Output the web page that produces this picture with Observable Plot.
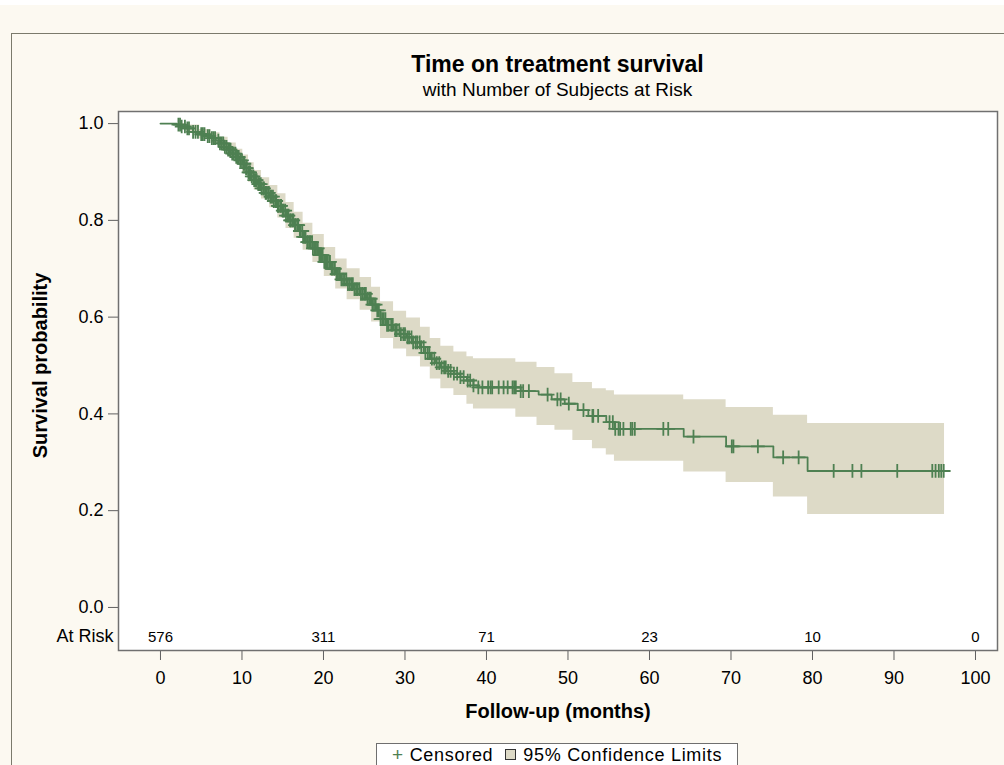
<!DOCTYPE html>
<html>
<head>
<meta charset="utf-8">
<script src="https://cdn.jsdelivr.net/npm/d3@7"></script>
<script src="https://cdn.jsdelivr.net/npm/@observablehq/plot@0.6"></script>
<style>
  html, body { margin: 0; padding: 0; background: #ffffff; }
  #page { position: relative; width: 1004px; height: 765px; overflow: hidden; background: #ffffff;
          font-family: "Liberation Sans", Arial, sans-serif; color: #000; }
  #cream { position: absolute; left: 0; top: 5px; width: 1004px; height: 760px; background: #fcf9f1; }
  #outer { position: absolute; left: 11px; top: 33px; width: 1200px; height: 1000px;
           border-left: 1.5px solid #7b7a6c; border-top: 1.5px solid #7b7a6c; }
  #title { position: absolute; left: 118px; width: 879px; top: 53px; text-align: center;
           font-size: 23px; line-height: 23px; font-weight: bold; }
  #subtitle { position: absolute; left: 118px; width: 879px; top: 80px; text-align: center;
              font-size: 19px; line-height: 19px; }
  #chart { position: absolute; left: 0; top: 104px; }
  #legend { position: absolute; left: 376px; top: 743px; width: 362px; height: 32px;
            border: 1px solid #6f6f6f; background: #ffffff; font-size: 18px; line-height: 18px;
            padding-top: 2px; box-sizing: border-box; letter-spacing: 0.7px;
            text-align: center; white-space: nowrap; }
  #legend .plus { color: #4e8052; font-size: 19px; margin-right: 6px; }
  #legend .sw { display: inline-block; width: 9px; height: 9px; background: #dddac7; border: 1.5px solid #333;
                margin: 0 7px 0 12px; vertical-align: 1px; }
</style>
</head>
<body>
<div id="page">
  <div id="cream"></div>
  <div id="outer"></div>
  <div id="title">Time on treatment survival</div>
  <div id="subtitle">with Number of Subjects at Risk</div>
  <div id="chart"></div>
  <div id="legend"><span class="plus">+</span>Censored<span class="sw"></span>95% Confidence Limits</div>
</div>
<script>
// ---- Data ----
const kmTime = [0, 2.0, 2.6, 3.2, 4.0, 4.8, 5.5, 6.2, 6.8, 7.3, 7.8, 8.3, 8.8, 9.3, 9.7, 10.1, 10.5, 10.8, 11.1, 11.5,
  11.9, 12.4, 12.9, 13.4, 13.9, 14.4, 14.9, 15.4, 15.9, 16.4, 17.0, 17.5, 18.0, 18.7, 19.4, 20.1, 20.9, 21.5, 22.1, 22.9,
  23.7, 24.5, 25.3, 25.9, 26.5, 27.0, 27.8, 28.6, 29.4, 30.2, 31.0, 31.9, 32.5, 33.1, 33.8, 34.4, 35.2, 36.0, 36.8, 37.6,
  38.4, 39.0, 44.2, 46.4, 48.0, 49.6, 51.2, 52.5, 54.7, 55.7, 64.2, 69.4, 75.2, 79.4, 96.7];
const kmSurv = [1.000, 0.998, 0.994, 0.990, 0.983, 0.978, 0.974, 0.970, 0.965, 0.959, 0.952, 0.946, 0.938, 0.931, 0.924, 0.917, 0.908, 0.899, 0.891, 0.883,
  0.875, 0.866, 0.857, 0.849, 0.840, 0.830, 0.820, 0.810, 0.800, 0.790, 0.778, 0.766, 0.755, 0.742, 0.728, 0.714, 0.700, 0.689, 0.678, 0.668,
  0.658, 0.648, 0.638, 0.626, 0.614, 0.596, 0.584, 0.573, 0.565, 0.558, 0.548, 0.538, 0.526, 0.514, 0.505, 0.496, 0.489, 0.483, 0.476, 0.469,
  0.459, 0.455, 0.447, 0.440, 0.430, 0.421, 0.408, 0.396, 0.383, 0.369, 0.353, 0.333, 0.310, 0.282, 0.282];

const bandTime = [0, 2.0, 3.2, 4.8, 6.2, 7.3, 8.3, 9.3, 10.1, 10.8, 11.5, 12.4, 13.4, 14.4, 15.4, 16.4, 17.5, 18.7, 20.1, 21.5,
  22.9, 24.5, 25.9, 27.0, 28.6, 30.2, 31.9, 33.1, 34.4, 36.0, 37.6, 38.4, 43.6, 46.2, 48.4, 50.6, 53.0, 54.7, 55.7, 64.2,
  69.4, 75.2, 79.4, 96.2];
const bandUpper = [1.000, 1.000, 0.997, 0.988, 0.981, 0.972, 0.960, 0.947, 0.935, 0.919, 0.903, 0.888, 0.872, 0.855, 0.837, 0.817, 0.794, 0.771, 0.744, 0.720,
  0.700, 0.682, 0.662, 0.632, 0.612, 0.598, 0.579, 0.556, 0.540, 0.528, 0.518, 0.514, 0.507, 0.496, 0.483, 0.465, 0.452, 0.448, 0.439, 0.429,
  0.413, 0.397, 0.380, 0.380];
const bandLower = [1.000, 0.994, 0.983, 0.968, 0.959, 0.946, 0.932, 0.915, 0.899, 0.879, 0.863, 0.844, 0.826, 0.805, 0.783, 0.763, 0.738, 0.713, 0.684, 0.658,
  0.636, 0.614, 0.590, 0.556, 0.534, 0.518, 0.497, 0.472, 0.452, 0.438, 0.420, 0.410, 0.393, 0.376, 0.366, 0.345, 0.328, 0.315, 0.302, 0.280,
  0.258, 0.228, 0.192, 0.192];

const censorTime = [2.2, 2.4, 2.6, 3.0, 3.3, 3.5, 4.0, 4.3, 4.6, 5.0, 5.2, 5.4, 5.8, 6.0, 6.3, 6.5, 6.7, 7.1, 7.3, 7.5,
  7.7, 7.9, 8.1, 8.3, 8.5, 8.6, 8.8, 9.0, 9.2, 9.3, 9.5, 9.6, 9.8, 10.0, 10.2, 10.3, 10.5, 10.6, 10.8, 10.9,
  11.0, 11.2, 11.4, 11.5, 11.7, 11.8, 12.0, 12.1, 12.3, 12.4, 12.6, 12.7, 12.9, 13.0, 13.2, 13.3, 13.5, 13.6, 13.8, 13.9,
  14.1, 14.2, 14.4, 14.5, 14.7, 14.8, 15.0, 15.1, 15.3, 15.4, 15.6, 15.7, 15.9, 16.0, 16.2, 16.3, 16.5, 16.6, 16.8, 16.9,
  17.1, 17.2, 17.4, 17.5, 17.7, 17.8, 18.0, 18.1, 18.3, 18.4, 18.6, 18.7, 18.9, 19.0, 19.2, 19.3, 19.5, 19.6, 19.8, 19.9,
  20.1, 20.2, 20.4, 20.5, 20.7, 20.8, 21.0, 21.1, 21.3, 21.4, 21.6, 21.7, 21.9, 22.0, 22.2, 22.4, 22.6, 22.8, 23.0, 23.2,
  23.4, 23.6, 23.8, 24.0, 24.2, 24.4, 24.6, 24.8, 25.0, 25.2, 25.4, 25.6, 25.8, 26.0, 26.2, 26.4, 26.6, 26.8, 27.0, 27.2,
  27.4, 27.6, 27.8, 28.0, 28.3, 28.5, 28.8, 29.0, 29.3, 29.5, 29.8, 30.0, 30.3, 30.5, 30.8, 31.0, 31.3, 31.5, 31.8, 32.0,
  32.3, 32.5, 32.8, 33.0, 33.3, 33.6, 33.9, 34.2, 34.5, 34.8, 35.0, 35.3, 35.6, 36.0, 36.4, 36.8, 37.2, 37.7, 38.0, 38.4,
  39.0, 39.5, 40.2, 40.5, 40.7, 41.5, 42.1, 42.6, 43.2, 43.4, 43.6, 44.2, 44.5, 45.2, 47.5, 48.7, 49.1, 50.1, 51.9, 53.0,
  53.1, 53.7, 55.1, 55.5, 55.8, 56.2, 56.4, 56.8, 57.7, 57.9, 58.2, 61.7, 62.3, 65.4, 70.1, 70.3, 73.3, 76.4, 78.3, 82.6,
  84.9, 86.0, 90.4, 94.7, 95.1, 95.5, 95.8, 96.1];

const atRiskTime = [0, 20, 40, 60, 80, 100];
const atRiskCount = [576, 311, 71, 23, 10, 0];

const xTicks = [0, 10, 20, 30, 40, 50, 60, 70, 80, 90, 100];
const yTicks = [0, 0.2, 0.4, 0.6, 0.8, 1.0];

// ---- Tables built from the arrays ----
const km = kmTime.map((t, i) => ({t, s: kmSurv[i]}));
const band = bandTime.map((t, i) => ({t, lo: bandLower[i], hi: bandUpper[i]}));
const censor = censorTime.map(t => {
  const i = d3.bisectRight(kmTime, t) - 1;
  return {t, s: kmSurv[Math.max(0, i)]};
});
const atRisk = atRiskTime.map((t, i) => ({t, n: atRiskCount[i]}));

const green = "#4e8052";
const font = "'Liberation Sans', Arial, sans-serif";

const chart = Plot.plot({
  width: 1004,
  height: 640,
  marginTop: 7,
  marginBottom: 94,
  marginLeft: 118,
  marginRight: 7,
  x: {domain: [-5.15, 102.7]},
  y: {domain: [-0.089, 1.025]},
  style: {background: "transparent", fontFamily: font, fontSize: "18px", color: "#000", overflow: "visible"},
  marks: [
    Plot.frame({fill: "white", stroke: "none"}),
    Plot.areaY(band, {x: "t", y1: "lo", y2: "hi", curve: "step-after", fill: "#dddac7"}),
    Plot.lineY(km, {x: "t", y: "s", curve: "step-after", stroke: green, strokeWidth: 1.8}),
    Plot.dot(censor, {x: "t", y: "s", symbol: "plus", r: 4.5, stroke: green, strokeWidth: 1.8}),
    Plot.text(atRisk, {x: "t", text: "n", frameAnchor: "bottom", dy: -9, fontSize: 15}),
    Plot.text(["At Risk"], {text: d => d, frameAnchor: "bottom-left", dx: -5, dy: -9, textAnchor: "end", fontSize: 18}),
    Plot.axisY({ticks: yTicks, tickFormat: d3.format(".1f"), tickSize: 10, tickPadding: 5, label: null, fontSize: 18, stroke: "#606060"}),
    Plot.axisX({ticks: xTicks, tickSize: 10, tickPadding: 11, label: null, fontSize: 18, stroke: "#606060"}),
    Plot.text(["Follow-up (months)"], {text: d => d, frameAnchor: "bottom", dy: 67, fontWeight: "bold", fontSize: 20}),
    Plot.text(["Survival probability"], {text: d => d, frameAnchor: "left", textAnchor: "middle", rotate: -90, dx: -78, dy: -15.5, fontWeight: "bold", fontSize: 20}),
    Plot.frame({stroke: "#707070", strokeWidth: 1.5})
  ]
});
document.getElementById("chart").appendChild(chart);
</script>
</body>
</html>
